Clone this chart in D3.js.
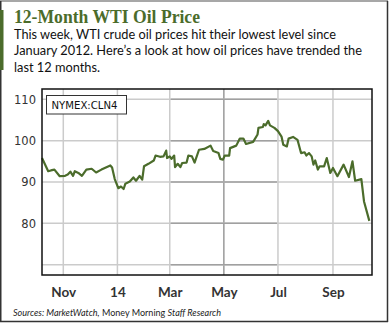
<!DOCTYPE html>
<html><head><meta charset="utf-8">
<script src="https://cdn.jsdelivr.net/npm/d3@7"></script>
<style>
html,body{margin:0;padding:0;background:#fff;}
svg{display:block;}
</style></head>
<body>
<svg id="c" width="390" height="323"></svg>
<script>
const dates = ["2013-10-08","2013-10-15","2013-10-18","2013-10-22","2013-10-28","2013-11-03","2013-11-06","2013-11-09","2013-11-12","2013-11-14","2013-11-18","2013-11-22","2013-11-27","2013-12-03","2013-12-08","2013-12-14","2013-12-24","2013-12-26","2013-12-29","2014-01-02","2014-01-05","2014-01-08","2014-01-10","2014-01-15","2014-01-19","2014-01-22","2014-01-26","2014-01-29","2014-01-31","2014-02-05","2014-02-11","2014-02-13","2014-02-18","2014-02-22","2014-02-25","2014-02-26","2014-03-01","2014-03-03","2014-03-06","2014-03-07","2014-03-10","2014-03-13","2014-03-15","2014-03-20","2014-03-22","2014-03-26","2014-03-29","2014-04-03","2014-04-09","2014-04-16","2014-04-19","2014-04-25","2014-04-27","2014-04-30","2014-05-02","2014-05-07","2014-05-08","2014-05-15","2014-05-19","2014-05-23","2014-05-26","2014-06-03","2014-06-08","2014-06-09","2014-06-14","2014-06-15","2014-06-17","2014-06-20","2014-06-22","2014-06-27","2014-07-01","2014-07-05","2014-07-07","2014-07-11","2014-07-13","2014-07-18","2014-07-23","2014-07-27","2014-07-31","2014-08-02","2014-08-05","2014-08-08","2014-08-10","2014-08-12","2014-08-15","2014-08-17","2014-08-22","2014-08-25","2014-08-29","2014-09-01","2014-09-06","2014-09-13","2014-09-19","2014-09-23","2014-09-26","2014-10-03","2014-10-06","2014-10-12"];
const prices = [95.8,92.6,92.8,93.0,91.4,91.5,91.8,92.5,91.5,92.6,92.2,91.5,93.0,93.2,92.3,93.0,94.0,93.5,90.7,88.5,88.9,88.3,89.6,90.1,91.1,90.3,91.5,90.6,93.8,94.4,95.2,96.4,96.1,96.2,97.6,95.8,96.2,95.6,96.4,93.6,94.4,93.6,94.6,94.7,96.4,96.2,94.7,97.8,98.0,98.8,97.5,97.0,95.6,95.4,96.4,96.4,98.2,98.8,100.5,100.5,99.2,99.7,101.5,103.1,103.3,104.0,103.7,104.8,103.7,103.1,102.3,101.0,99.0,98.6,100.5,100.9,100.2,97.0,97.2,96.4,97.0,96.2,94.2,95.2,93.0,93.8,93.8,95.8,92.2,93.4,91.4,94.2,91.2,95.0,90.3,90.7,85.3,80.6];
const xTickDates = ["2013-11-01","2014-01-01","2014-03-01","2014-05-01","2014-07-01","2014-09-01"];
const xTickLabels = ["Nov","14","Mar","May","Jul","Sep"];
const yGridValues = [70,80,90,100,110];
const yTickLabels = [80,90,100,110];
const xDomain = ["2013-10-08","2014-10-15"];
const yDomain = [67.5,112.5];
const title = "12-Month WTI Oil Price";
const subtitle = ["This week, WTI crude oil prices hit their lowest level since","January 2012. Here\u2019s a look at how oil prices have trended the","last 12 months."];
const legendText = "NYMEX:CLN4";

const parse = d3.timeParse("%Y-%m-%d");
const data = dates.map((d,i)=>({date:parse(d), value:prices[i]}));
const svg = d3.select("#c");
const green = "#4b6c2b";

const L=42, R=372, T=89, B=275;
const x = d3.scaleTime().domain(xDomain.map(parse)).range([L,R]);
const y = d3.scaleLinear().domain(yDomain).range([B,T]);

// outer frame
svg.append("line").attr("x1",0).attr("x2",388).attr("y1",1).attr("y2",1).attr("stroke","#8a8a8a").attr("stroke-width",1.5);
svg.append("line").attr("x1",0.75).attr("x2",0.75).attr("y1",1).attr("y2",322).attr("stroke","#333").attr("stroke-width",1.5);
svg.append("line").attr("x1",387.5).attr("x2",387.5).attr("y1",1).attr("y2",322).attr("stroke","#333").attr("stroke-width",1.5);
svg.append("line").attr("x1",0).attr("x2",388).attr("y1",321.5).attr("y2",321.5).attr("stroke","#333").attr("stroke-width",1.5);
svg.append("rect").attr("x",0).attr("y",10).attr("width",3.5).attr("height",60).attr("fill",green);

// title
const tt = svg.append("text").attr("x",14).attr("y",22.5).text(title)
  .attr("font-family","'Liberation Serif','DejaVu Serif',serif").attr("font-weight","bold").attr("font-size",19).attr("fill",green);
tt.attr("textLength",186).attr("lengthAdjust","spacingAndGlyphs");
const subW = [322,348,86];
subtitle.forEach((s,i)=>{
  svg.append("text").attr("x",14).attr("y",38.5+i*16.5).text(s)
    .attr("font-family","Lato, 'Open Sans', sans-serif").attr("font-size",13.6).attr("fill","#111")
    .attr("textLength",subW[i]).attr("lengthAdjust","spacingAndGlyphs");
});

// grid
const grid = svg.append("g");
grid.selectAll("line.v").data(xTickDates.map(parse)).enter().append("line")
  .attr("x1",d=>x(d)).attr("x2",d=>x(d)).attr("y1",T).attr("y2",B)
  .attr("stroke",(d,i)=>i===3?"#9a9a9a":"#cbcbcb").attr("stroke-width",1.5);
grid.selectAll("line.h").data(yGridValues).enter().append("line")
  .attr("x1",L).attr("x2",R).attr("y1",d=>y(d)).attr("y2",d=>y(d))
  .attr("stroke","#cbcbcb").attr("stroke-width",1.5);
grid.selectAll("line.hd").data(yGridValues).enter().append("line")
  .attr("x1",x(parse(xTickDates[2]))+1).attr("x2",x(parse(xTickDates[4]))-1).attr("y1",d=>y(d)).attr("y2",d=>y(d))
  .attr("stroke","#a0a0a0").attr("stroke-width",1.5);

// line
const line = d3.line().x(d=>x(d.date)).y(d=>y(d.value));
svg.append("path").datum(data).attr("d",line).attr("fill","none")
  .attr("stroke",green).attr("stroke-width",2.2).attr("stroke-linejoin","round");

// plot frame
svg.append("rect").attr("x",L).attr("y",T).attr("width",R-L).attr("height",B-T)
  .attr("fill","none").attr("stroke","#111").attr("stroke-width",1.5);

// axes
const yAxis = d3.axisLeft(y).tickValues(yTickLabels).tickSize(0).tickPadding(6);
const ya = svg.append("g").attr("transform",`translate(${L},0)`).call(yAxis);
ya.select(".domain").remove();
ya.selectAll("text").attr("font-family","'DejaVu Sans',sans-serif").attr("font-size",11.5).attr("fill","#333");

const xAxis = d3.axisBottom(x).tickValues(xTickDates.map(parse)).tickSize(0).tickPadding(12)
  .tickFormat((d,i)=>xTickLabels[i]);
const xa = svg.append("g").attr("transform",`translate(0,${B})`).call(xAxis);
xa.select(".domain").remove();
xa.selectAll("text").attr("font-family","Lato, sans-serif").attr("font-weight","bold").attr("font-size",13.5).attr("fill","#333");

// legend box
svg.append("rect").attr("x",46.5).attr("y",95.5).attr("width",80).attr("height",18.5)
  .attr("fill","#fff").attr("stroke","#333").attr("stroke-width",1);
svg.append("text").attr("x",51.5).attr("y",109).text(legendText)
  .attr("font-family","'DejaVu Sans',sans-serif").attr("font-size",10.5).attr("fill","#111")
  .attr("textLength",66).attr("lengthAdjust","spacingAndGlyphs");

// source
const src = svg.append("text").attr("x",13).attr("y",316).attr("font-family","Lato, sans-serif")
  .attr("font-size",9.5).attr("fill","#222");
src.append("tspan").attr("font-style","italic").text("Sources: MarketWatch,");
src.append("tspan").text(" Money Morning ");
src.append("tspan").attr("font-style","italic").text("Staff Research");
src.attr("textLength",208).attr("lengthAdjust","spacingAndGlyphs");
</script>
</body></html>
